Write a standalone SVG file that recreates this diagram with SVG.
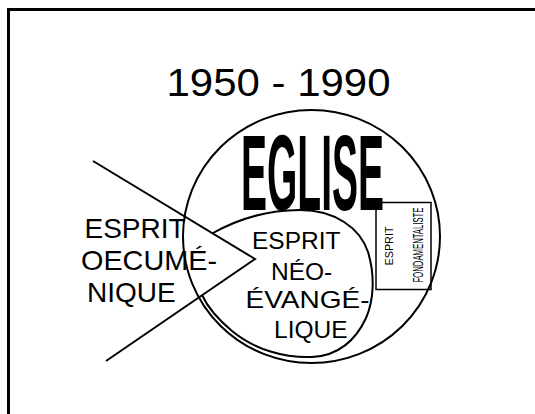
<svg xmlns="http://www.w3.org/2000/svg" width="535" height="414" viewBox="0 0 535 414">
<style>
.ln{fill:none;stroke:#000;stroke-width:2}
.t{font-family:"Liberation Sans",Arial,sans-serif;fill:#000}
</style>
<rect width="535" height="414" fill="#fff"/>
<g id="frame"><rect x="8.5" y="9.5" width="600" height="500" fill="none" stroke="#000" stroke-width="3"/></g>
<g id="title"><text class="t" x="166.5" y="95.7" font-size="39" textLength="224" lengthAdjust="spacingAndGlyphs">1950 - 1990</text></g>
<g id="eglise">
<ellipse class="ln" cx="311.5" cy="236.5" rx="128.5" ry="126.5"/>
<text class="t" x="241" y="210" font-size="107" font-weight="bold" textLength="143" lengthAdjust="spacingAndGlyphs">EGLISE</text>
</g>
<g id="fondamentaliste">
<rect x="376" y="202.5" width="55" height="87" fill="none" stroke="#000" stroke-width="1.5"/>
<text class="t" transform="translate(393,246) rotate(-90)" text-anchor="middle" font-size="10.5" textLength="39" lengthAdjust="spacingAndGlyphs">ESPRIT</text>
<text class="t" transform="translate(422.7,245) rotate(-90)" text-anchor="middle" font-size="14" textLength="75" lengthAdjust="spacingAndGlyphs">FONDAMENTALISTE</text>
</g>
<g id="neo">
<path class="ln" d="M213,233 C240,218 268,210 300,210 C335,210 360,228 368,252 C375,275 374,300 366,318 C356,340 338,356 312,357 C285,358 255,350 232,331 C220,321 208,308 202,295"/>
<text class="t" font-size="24.5"><tspan x="252" y="249.3">ESPRIT</tspan><tspan x="271" y="280">NÉO-</tspan><tspan x="245.5" y="308.3" textLength="124" lengthAdjust="spacingAndGlyphs">ÉVANGÉ-</tspan><tspan x="274" y="338.3">LIQUE</tspan></text>
</g>
<g id="oecumenique">
<text class="t" font-size="28"><tspan x="84.5" y="238.3">ESPRIT</tspan><tspan x="81" y="270" textLength="136" lengthAdjust="spacingAndGlyphs">OECUMÉ-</tspan><tspan x="87" y="302">NIQUE</tspan></text>
</g>
<g id="connectors">
<polyline class="ln" points="93,161 255,259 106,361" stroke-width="2.2"/>
</g>
</svg>
